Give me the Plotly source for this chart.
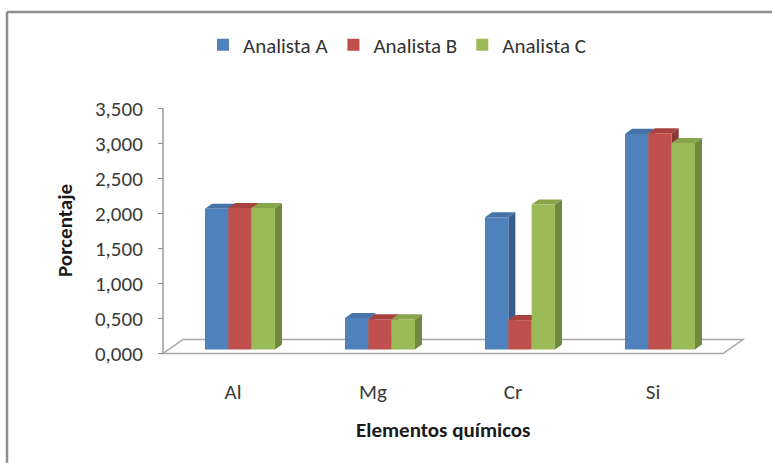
import plotly.graph_objects as go

# ---- data -------------------------------------------------------------
categories = ["Al", "Mg", "Cr", "Si"]
analista_a = [2.01, 0.45, 1.89, 3.08]
analista_b = [2.02, 0.43, 0.42, 3.09]
analista_c = [2.02, 0.43, 2.07, 2.95]
series_names = ["Analista A", "Analista B", "Analista C"]
y_ticks = [0, 0.5, 1.0, 1.5, 2.0, 2.5, 3.0, 3.5]

# ---- styling ----------------------------------------------------------
FRONT = ["#4F81BD", "#C0504D", "#9BBB59"]
SIDE = ["#385D8A", "#8C3836", "#71893F"]
TOP = ["#4672A8", "#A9423F", "#88A54C"]
FONT = "Calibri, Carlito, Lato, sans-serif"
AXIS_GREY = "#8C8C8C"
TEXT_SIZE = 21

# pseudo-3D geometry (data units)
BAR_W = 1 / 6            # width of one column
BAR_DX, BAR_DY = 0.05, 0.072      # column depth (side / top faces)
PLANE_DX, PLANE_DY = 0.05, 0.057  # columns stand a little behind the floor front
FLOOR_DX, FLOOR_DY = 0.143, 0.2   # floor depth

X_RANGE = [-0.55, 3.7]
Y_RANGE = [-0.05, 3.55]

fig = go.Figure()

values = [analista_a, analista_b, analista_c]
shapes = []

# floor
shapes.append(dict(
    type="path", xref="x", yref="y", layer="below",
    path=(f"M -0.5,0 L 3.5,0 L {3.5 + FLOOR_DX},{FLOOR_DY} "
          f"L {-0.5 + FLOOR_DX},{FLOOR_DY} Z"),
    fillcolor="white", line=dict(color="#A6A6A6", width=1.5),
))

# value axis line
shapes.append(dict(
    type="line", xref="x", yref="y", x0=-0.5, x1=-0.5, y0=0, y1=3.5,
    line=dict(color=AXIS_GREY, width=1.3),
))

for k, (name, vals) in enumerate(zip(series_names, values)):
    offset = (k - 1.5) * BAR_W
    fig.add_trace(go.Bar(
        name=name, x=list(range(len(categories))), y=vals,
        width=BAR_W, offset=offset,
        marker=dict(color=FRONT[k], line=dict(width=0)),
        xaxis="x2", yaxis="y2",
        hovertemplate=name + " %{customdata}: %{y:.2f}<extra></extra>",
        customdata=categories,
    ))
    for i, v in enumerate(vals):
        x0 = i + offset
        x1 = x0 + BAR_W
        # right side face
        shapes.append(dict(
            type="path", xref="x2", yref="y2", layer="below",
            path=(f"M {x1},0 L {x1 + BAR_DX},{BAR_DY} "
                  f"L {x1 + BAR_DX},{v + BAR_DY} L {x1},{v} Z"),
            fillcolor=SIDE[k], line=dict(width=0),
        ))
        # top face
        shapes.append(dict(
            type="path", xref="x2", yref="y2", layer="below",
            path=(f"M {x0},{v} L {x0 + BAR_DX},{v + BAR_DY} "
                  f"L {x1 + BAR_DX},{v + BAR_DY} L {x1},{v} Z"),
            fillcolor=TOP[k], line=dict(width=0),
        ))

# chart-area frame: only its top and left edges fall on the page
FRAME_L, FRAME_T = -0.2504, 1.369
FRAME_R = (772 - 156) / 595
for seg in (dict(x0=FRAME_L, x1=FRAME_R, y0=FRAME_T, y1=FRAME_T),
            dict(x0=FRAME_L, x1=FRAME_L, y0=FRAME_T, y1=-0.42)):
    shapes.append(dict(type="line", xref="paper", yref="paper",
                       line=dict(color="#8E8E8E", width=2.5), **seg))

fig.update_layout(
    width=772, height=463, autosize=False,
    margin=dict(l=156, r=21, t=105, b=106),
    paper_bgcolor="white", plot_bgcolor="white",
    separators=",.",
    barmode="overlay",
    font=dict(family=FONT, size=TEXT_SIZE, color="#3A3A3A"),
    showlegend=True,
    legend=dict(
        orientation="h", x=0.405, xanchor="center", y=1.238, yanchor="middle",
        font=dict(size=TEXT_SIZE, color="#333333"), bgcolor="rgba(0,0,0,0)",
    ),
    xaxis=dict(
        range=X_RANGE, tickvals=list(range(len(categories))), ticktext=categories,
        showgrid=False, zeroline=False, showline=False, ticks="",
        ticklabelstandoff=20, fixedrange=True,
    ),
    yaxis=dict(
        range=Y_RANGE, tickvals=y_ticks, tickformat=".3f",
        showgrid=False, zeroline=False, showline=False,
        ticks="outside", ticklen=5, tickcolor=AXIS_GREY, tickwidth=1.3,
        anchor="free", position=0.05 / (X_RANGE[1] - X_RANGE[0]),
        ticklabelstandoff=11, fixedrange=True,
    ),
    xaxis2=dict(
        overlaying="x", anchor="y2", visible=False,
        range=[X_RANGE[0] - PLANE_DX, X_RANGE[1] - PLANE_DX],
    ),
    yaxis2=dict(
        overlaying="y", anchor="x2", visible=False,
        range=[Y_RANGE[0] - PLANE_DY, Y_RANGE[1] - PLANE_DY],
    ),
    shapes=shapes,
    annotations=[
        dict(text="<b>Porcentaje</b>", xref="paper", yref="paper",
             x=(65 - 156) / 595, y=(357 - 231) / 252,
             xanchor="center", yanchor="middle",
             textangle=-90, showarrow=False,
             font=dict(size=TEXT_SIZE, color="#1A1A1A")),
        dict(text="<b>Elementos químicos</b>", xref="paper", yref="paper",
             x=(443 - 156) / 595, y=(357 - 430) / 252,
             xanchor="center", yanchor="middle",
             showarrow=False, font=dict(size=TEXT_SIZE, color="#1A1A1A")),
    ],
)

fig.write_html("out.html")
